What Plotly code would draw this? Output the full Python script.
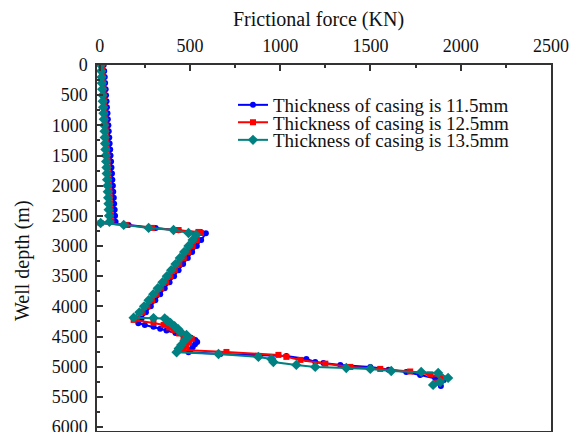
import plotly.graph_objects as go

# ---- data ----
series_names = [
    "Thickness of casing is 11.5mm",
    "Thickness of casing is 12.5mm",
    "Thickness of casing is 13.5mm",
]

depth_115 = [0, 100, 200, 300, 400, 500, 600, 700, 800, 900, 1000, 1100, 1200, 1300,
             1400, 1500, 1600, 1700, 1800, 1900, 2000, 2100, 2200, 2300, 2400, 2500, 2600,
             2620, 2650, 2700, 2740, 2770, 2790,
             2900, 3000, 3100, 3200, 3300, 3400, 3500, 3600, 3700, 3800, 3900, 4000, 4100, 4200,
             4280, 4310, 4340, 4370, 4400, 4440, 4480, 4520, 4560, 4590,
             4630, 4680, 4720, 4760,
             4790, 4822, 4872, 4922, 4938, 4971, 5004, 5050, 5087, 5137, 5186, 5225, 5320]
force_115 = [22, 25, 28, 30, 33, 35, 38, 40, 43, 45, 48, 50, 53, 55,
             58, 60, 63, 65, 68, 70, 73, 75, 78, 80, 83, 85, 88,
             5, 160, 310, 437, 560, 588,
             562, 538, 512, 488, 462, 437, 412, 387, 360, 335, 308, 283, 256, 232,
             214, 250, 298, 335, 370, 420, 465, 505, 530, 540,
             528, 515, 503, 492,
             669, 1034, 1145, 1194, 1239, 1333, 1499, 1600, 1698, 1775, 1858, 1905, 1890]

depth_125 = [0, 100, 200, 300, 400, 500, 600, 700, 800, 900, 1000, 1100, 1200, 1300,
             1400, 1500, 1600, 1700, 1800, 1900, 2000, 2100, 2200, 2300, 2400, 2500, 2600,
             2620, 2650, 2700, 2735, 2767, 2785,
             2900, 3000, 3100, 3200, 3300, 3400, 3500, 3600, 3700, 3800, 3900, 4000, 4100, 4200,
             4225, 4275, 4308, 4350, 4391, 4450, 4507, 4540,
             4600, 4660, 4723,
             4756, 4805, 4838, 4888, 4950, 5004, 5037, 5080, 5130, 5175, 5265]
force_125 = [12, 14, 16, 18, 20, 22, 24, 26, 28, 30, 32, 34, 36, 38,
             40, 42, 44, 46, 48, 50, 52, 54, 56, 58, 60, 62, 65,
             5, 145, 290, 437, 547, 560,
             538, 515, 490, 466, 441, 416, 392, 367, 341, 316, 290, 265, 238, 205,
             188, 298, 354, 385, 409, 440, 464, 510,
             495, 480, 464,
             702, 990, 1034, 1112, 1250, 1388, 1554, 1720, 1830, 1890, 1870]

depth_135 = [0, 100, 200, 300, 400, 500, 600, 700, 800, 900, 1000, 1100, 1200, 1300,
             1400, 1500, 1600, 1700, 1800, 1900, 2000, 2100, 2200, 2300, 2400, 2500, 2600,
             2620, 2650, 2700, 2735, 2784, 2815,
             2900, 3000, 3100, 3200, 3300, 3400, 3500, 3600, 3700, 3800, 3900, 4000, 4100, 4190,
             4195, 4200, 4240, 4275, 4330, 4380, 4424, 4475, 4510,
             4570, 4640, 4700, 4760,
             4789, 4838, 4872, 4922, 4971, 5004, 5021, 5037, 5071, 5087, 5104, 5186, 5253, 5302]
force_135 = [6, 8, 10, 12, 14, 16, 17, 19, 21, 23, 25, 27, 28, 30,
             32, 34, 36, 38, 39, 41, 43, 45, 47, 49, 50, 52, 54,
             5, 133, 271, 409, 492, 533,
             515, 492, 468, 444, 420, 396, 372, 348, 322, 297, 271, 246, 220, 188,
             298, 360, 375, 392, 415, 435, 448, 481, 490,
             470, 452, 438, 426,
             658, 879, 951, 962, 1089, 1194, 1366, 1499, 1615, 1781, 1875, 1930, 1886, 1847]

x_ticks = [0, 500, 1000, 1500, 2000, 2500]
y_ticks = [0, 500, 1000, 1500, 2000, 2500, 3000, 3500, 4000, 4500, 5000, 5500, 6000]

# ---- figure ----
W, H = 576, 432
L, R, T, B = 97, 25, 65, 1
plot_w = W - L - R
plot_h = H - T - B

FONT = "Liberation Serif, Times New Roman, serif"
colors = ["#0000FF", "#FF0000", "#008080"]
symbols = ["circle", "square", "diamond"]
msizes = [6, 6, 8]
datasets = [(force_115, depth_115), (force_125, depth_125), (force_135, depth_135)]
legend_ids = ["legend", "legend2", "legend3"]

fig = go.Figure()
for i, ((fx, dy), name) in enumerate(zip(datasets, series_names)):
    fig.add_trace(go.Scatter(
        x=fx, y=dy, name=name, mode="lines+markers",
        line=dict(color=colors[i], width=2),
        marker=dict(symbol=symbols[i], size=msizes[i], color=colors[i]),
        legend=legend_ids[i],
    ))

def py2paper(py):
    return 1 - (py - T) / plot_h

def px2paper(px):
    return (px - L) / plot_w

legend_rows = [105, 122.5, 140]
legend_common = dict(font=dict(family=FONT, size=19, color="#111"),
                     bgcolor="rgba(0,0,0,0)", xanchor="left", yanchor="middle",
                     itemwidth=30, borderwidth=0)
lay_legends = {}
for lid, row in zip(legend_ids, legend_rows):
    lay_legends[lid] = dict(x=px2paper(233), y=py2paper(row), **legend_common)

y_max = 6000 * plot_h / (427 - T)

axis_common = dict(
    showgrid=False, zeroline=False, showline=True, linecolor="#333", linewidth=1.5,
    mirror=True, ticks="inside", ticklen=6, tickwidth=1.5, tickcolor="#333",
    tickfont=dict(family=FONT, size=18, color="#111"),
    ticklabeloverflow="allow", automargin=False,
)

fig.update_layout(
    width=W, height=H,
    margin=dict(l=L, r=R, t=T, b=B, autoexpand=False),
    paper_bgcolor="white", plot_bgcolor="white",
    showlegend=True,
    xaxis=dict(side="top", range=[-15, 2500], tickvals=x_ticks,
               minor=dict(ticks="inside", ticklen=3, tickwidth=1.5, tickcolor="#333", dtick=250, tick0=0),
               ticklabelstandoff=4, **axis_common),
    yaxis=dict(range=[y_max, 0], tickvals=y_ticks,
               minor=dict(ticks="inside", ticklen=3, tickwidth=1.5, tickcolor="#333", dtick=250, tick0=0),
               ticklabelstandoff=4, **axis_common),
    annotations=[
        dict(text="Frictional force (KN)", xref="paper", yref="paper",
             x=px2paper(318), y=py2paper(20), xanchor="center", yanchor="middle",
             showarrow=False, font=dict(family=FONT, size=20, color="#111")),
        dict(text="Well depth (m)", xref="paper", yref="paper",
             x=px2paper(22), y=py2paper(261), xanchor="center", yanchor="middle",
             textangle=-90, showarrow=False, font=dict(family=FONT, size=20, color="#111")),
    ],
    **lay_legends,
)

fig.write_html(
    "out.html",
    config={"displayModeBar": False},
    post_script="document.body.style.margin='0px';document.body.style.overflow='hidden';",
)
